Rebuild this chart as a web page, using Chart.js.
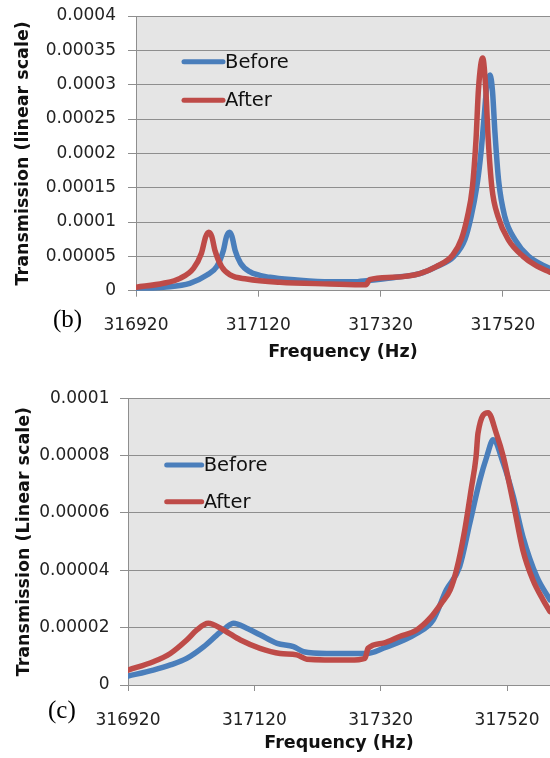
<!DOCTYPE html>
<html><head><meta charset="utf-8">
<script src="https://cdn.jsdelivr.net/npm/chart.js@4.4.1/dist/chart.umd.min.js"></script>
<style>
html,body{margin:0;padding:0;background:#fff;width:550px;height:758px;overflow:hidden}
canvas{position:absolute;left:0}
#cb{top:0}#cc{top:370px}
</style></head><body>
<canvas id="cb" width="550" height="370"></canvas>
<canvas id="cc" width="550" height="388"></canvas>
<script>
// ---------- data ----------
const seriesNames = ['Before', 'After'];
const xTickValues = [316920, 317120, 317320, 317520];
const yTicksB = [0, 0.00005, 0.0001, 0.00015, 0.0002, 0.00025, 0.0003, 0.00035, 0.0004];
const yTicksC = [0, 0.00002, 0.00004, 0.00006, 0.00008, 0.0001];

// panel (b)
const bFreqBefore = [316920, 316965, 317008, 317036, 317052, 317063, 317068, 317073, 317077, 317082, 317091, 317106, 317139, 317183, 317237, 317275, 317300, 317340, 317384, 317411, 317440, 317458, 317468, 317477, 317484, 317489, 317494, 317499, 317503, 317507, 317513, 317523, 317540, 317562, 317597];
const bValBefore = [2e-6, 5e-6, 10.8e-6, 22.9e-6, 35e-6, 59e-6, 78.7e-6, 85e-6, 78.7e-6, 59e-6, 40e-6, 27.7e-6, 19.5e-6, 15.6e-6, 13e-6, 13e-6, 15e-6, 19e-6, 25e-6, 35e-6, 50e-6, 75e-6, 108e-6, 150e-6, 200e-6, 250e-6, 300e-6, 314e-6, 290e-6, 230e-6, 160e-6, 108e-6, 74e-6, 50e-6, 32e-6];
const bFreqAfter = [316920, 316965, 316992, 317014, 317027, 317034, 317039, 317044, 317049, 317060, 317074, 317101, 317155, 317237, 317296, 317302, 317340, 317384, 317411, 317438, 317452, 317462, 317470, 317476, 317480, 317487, 317492, 317496, 317502, 317512, 317529, 317553, 317575, 317597];
const bValAfter = [5e-6, 10.8e-6, 18e-6, 32.6e-6, 54.5e-6, 78.7e-6, 85e-6, 78.7e-6, 59e-6, 35e-6, 22.9e-6, 17e-6, 12.2e-6, 9.8e-6, 8.5e-6, 16e-6, 19.5e-6, 25e-6, 35e-6, 52e-6, 75e-6, 108e-6, 150e-6, 220e-6, 293e-6, 339e-6, 293e-6, 220e-6, 150e-6, 108e-6, 74e-6, 50e-6, 36e-6, 27e-6];

// panel (c)
const cFreqBefore = [316920, 316960, 316987, 317013, 317040, 317061, 317075, 317087, 317108, 317129, 317156, 317182, 317198, 317235, 317271, 317298, 317324, 317377, 317403, 317424, 317445, 317461, 317477, 317488, 317498, 317514, 317530, 317545, 317567, 317588];
const cValBefore = [3.1e-6, 5.2e-6, 7e-6, 9.3e-6, 13.4e-6, 17.5e-6, 20e-6, 21.5e-6, 19.8e-6, 17.5e-6, 14.5e-6, 13.4e-6, 11.6e-6, 11e-6, 11e-6, 11e-6, 12.8e-6, 18e-6, 22.7e-6, 33.2e-6, 41.3e-6, 56.4e-6, 71.5e-6, 79.7e-6, 85.5e-6, 77.4e-6, 65.7e-6, 51.8e-6, 37.8e-6, 29.7e-6];
const cFreqAfter = [316920, 316960, 316987, 317013, 317029, 317047, 317071, 317098, 317129, 317161, 317187, 317203, 317271, 317295, 317300, 317324, 317350, 317377, 317398, 317416, 317430, 317440, 317453, 317463, 317471, 317474, 317490, 317503, 317514, 317530, 317545, 317561, 317577, 317588];
const cValAfter = [5.2e-6, 8.1e-6, 11e-6, 15.7e-6, 19.2e-6, 21.5e-6, 19.2e-6, 15.7e-6, 12.8e-6, 11e-6, 10.5e-6, 9e-6, 8.7e-6, 9.3e-6, 12.8e-6, 14.6e-6, 16.9e-6, 19.2e-6, 23.3e-6, 28.5e-6, 33.2e-6, 40.1e-6, 54e-6, 68e-6, 79.7e-6, 87.8e-6, 95e-6, 87.8e-6, 79.7e-6, 63.4e-6, 47.1e-6, 36.6e-6, 29.7e-6, 25.6e-6];

// ---------- styling ----------
const BLUE = '#4a7ebb', RED = '#be4b48';
const TICK_FONT = {family: '"DejaVu Sans", sans-serif', size: 17};
const TITLE_FONT = {family: '"DejaVu Sans", sans-serif', size: 17.5, weight: 'bold'};
const GRID = '#8e8e8e';

const pairs = (xs, ys) => xs.map((x, i) => ({x: x, y: ys[i]}));

const plotBg = {
  id: 'plotBg',
  beforeDraw(chart) {
    const a = chart.chartArea, ctx = chart.ctx;
    ctx.save(); ctx.fillStyle = '#e5e5e5';
    ctx.fillRect(a.left, a.top, a.right - a.left, a.bottom - a.top);
    ctx.restore();
  }
};
const insideLegend = {
  id: 'insideLegend',
  afterDatasetsDraw(chart, args, o) {
    const ctx = chart.ctx, a = chart.chartArea;
    ctx.save();
    chart.data.datasets.forEach((ds, i) => {
      const y = a.top + o.top + i * o.gap, x = a.left + o.left;
      ctx.strokeStyle = ds.borderColor; ctx.lineWidth = 5; ctx.lineCap = 'round';
      ctx.beginPath(); ctx.moveTo(x, y); ctx.lineTo(x + o.len, y); ctx.stroke();
      ctx.fillStyle = '#111'; ctx.font = o.font; ctx.textBaseline = 'middle'; ctx.textAlign = 'left';
      ctx.fillText(ds.label, x + o.len + 2, y + 1);
    });
    ctx.restore();
  }
};
const panelTag = {
  id: 'panelTag',
  afterDraw(chart, args, o) {
    const ctx = chart.ctx;
    ctx.save(); ctx.fillStyle = '#000'; ctx.font = '25px "Liberation Serif", serif';
    ctx.textBaseline = 'middle'; ctx.textAlign = 'left';
    ctx.fillText(o.text, o.x, o.y); ctx.restore();
  }
};

function makeChart(id, cfg) {
  return new Chart(document.getElementById(id), {
    type: 'line',
    data: {
      datasets: [
        {label: seriesNames[0], data: pairs(cfg.fb, cfg.vb), borderColor: BLUE, order: 1},
        {label: seriesNames[1], data: pairs(cfg.fa, cfg.va), borderColor: RED, order: 0}
      ].map(d => Object.assign(d, {borderWidth: 5.5, pointRadius: 0, fill: false,
        cubicInterpolationMode: 'monotone', borderJoinStyle: 'round', borderCapStyle: 'round'}))
    },
    options: {
      responsive: false, animation: false, devicePixelRatio: 1,
      layout: {padding: {left: 0, right: 0, top: cfg.top, bottom: 0}},
      plugins: {
        legend: {display: false}, tooltip: {enabled: false},
        insideLegend: cfg.legend,
        panelTag: cfg.tag
      },
      scales: {
        x: {
          type: 'linear', min: 316920, max: cfg.xmax,
          afterBuildTicks: s => { s.ticks = xTickValues.map(v => ({value: v})); },
          afterFit: s => { s.height = cfg.xh; s.paddingLeft = 0; s.paddingRight = 0; },
          ticks: {font: TICK_FONT, color: '#222', padding: 19, maxRotation: 0, autoSkip: false,
                  callback: v => String(v)},
          grid: {drawOnChartArea: false, drawTicks: true, tickLength: 6, color: GRID},
          border: {color: GRID, width: 1},
          title: {display: true, text: 'Frequency (Hz)', font: TITLE_FONT, color: '#111',
                  padding: {top: 0, bottom: cfg.xtp}}
        },
        y: {
          type: 'linear', min: 0, max: cfg.ymax,
          afterBuildTicks: s => { s.ticks = cfg.yt.map(v => ({value: v})); },
          afterFit: s => { s.width = cfg.yw; s.paddingTop = 0; s.paddingBottom = 0; },
          ticks: {font: TICK_FONT, color: '#222', padding: cfg.ypad,
                  callback: v => String(v)},
          grid: {color: GRID, tickLength: 8, lineWidth: 1},
          border: {color: GRID, width: 1},
          title: {display: true, text: cfg.ytitle, font: TITLE_FONT,
                  color: '#111', padding: {top: cfg.ytp, bottom: 0}}
        }
      }
    },
    plugins: [plotBg, insideLegend, panelTag]
  });
}

makeChart('cb', {
  fb: bFreqBefore, vb: bValBefore, fa: bFreqAfter, va: bValAfter,
  xmax: 317597, ymax: 0.0004, yt: yTicksB, top: 16, xh: 79.3, yw: 136, ypad: 12, ytp: 13, xtp: 7,
  ytitle: 'Transmission (linear scale)',
  legend: {left: 48, top: 45.7, gap: 38.5, len: 39, font: '19.5px "DejaVu Sans", sans-serif'},
  tag: {text: '(b)', x: 53, y: 320}
});
makeChart('cc', {
  fb: cFreqBefore, vb: cValBefore, fa: cFreqAfter, va: cValAfter,
  xmax: 317588, ymax: 0.0001, yt: yTicksC, top: 28.3, xh: 73, yw: 128, ypad: 10.5, ytp: 14, xtp: 4,
  ytitle: 'Transmission (Linear scale)',
  legend: {left: 38.7, top: 66.7, gap: 36.7, len: 35, font: '19.5px "DejaVu Sans", sans-serif'},
  tag: {text: '(c)', x: 48, y: 341}
});
</script>
</body></html>
